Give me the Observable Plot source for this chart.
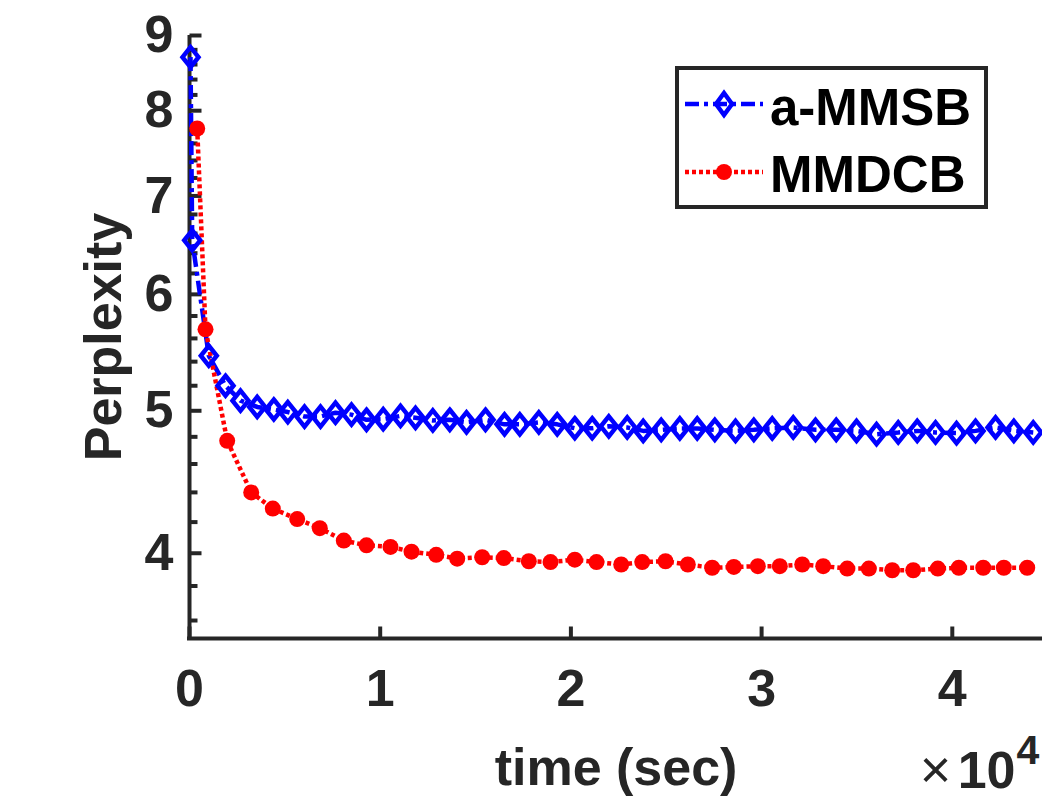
<!DOCTYPE html>
<html>
<head>
<meta charset="utf-8">
<script src="https://cdn.jsdelivr.net/npm/d3@7"></script>
<script src="https://cdn.jsdelivr.net/npm/@observablehq/plot@0.6"></script>
<style>
  body { margin: 0; background: #fff; }
  #wrap { position: relative; width: 1042px; height: 797px; overflow: hidden; background: #fff; }
  #legend { position: absolute; left: 0; top: 0; pointer-events: none; }
</style>
</head>
<body>
<div id="wrap"></div>
<script>
// ---- data (time in seconds, perplexity) ----
const ammsbTime = [52, 142, 1012, 1888, 2674, 3550, 4421, 5155, 6031, 6870, 7656, 8495, 9282, 10158, 11065, 11852, 12759, 13650, 14526, 15522, 16519, 17321, 18318, 19283, 20205, 21117, 21988, 22953, 23792, 24736, 25712, 26624, 27547, 28633, 29592, 30557, 31659, 32828, 33914, 34978, 36027, 37165, 38161, 39121, 40222, 41219, 42268, 43227, 44244];
const ammsbPerp = [8.70, 6.53, 5.45, 5.20, 5.08, 5.03, 5.01, 4.99, 4.955, 4.955, 4.985, 4.97, 4.93, 4.935, 4.96, 4.945, 4.925, 4.93, 4.91, 4.93, 4.895, 4.895, 4.91, 4.895, 4.865, 4.865, 4.88, 4.871, 4.845, 4.853, 4.864, 4.864, 4.853, 4.845, 4.853, 4.864, 4.871, 4.853, 4.853, 4.845, 4.82, 4.833, 4.845, 4.833, 4.828, 4.845, 4.871, 4.845, 4.833];

const mmdcbTime = [404, 839, 1977, 3236, 4368, 5648, 6833, 8091, 9282, 10540, 11642, 12937, 14038, 15349, 16482, 17793, 18931, 20205, 21343, 22638, 23740, 24962, 26131, 27410, 28543, 29802, 30955, 32130, 33231, 34490, 35623, 36850, 37951, 39241, 40343, 41622, 42702, 43929];
const mmdcbPerp = [7.78, 5.68, 4.77, 4.40, 4.29, 4.22, 4.16, 4.08, 4.05, 4.04, 4.01, 3.99, 3.966, 3.975, 3.97, 3.95, 3.945, 3.96, 3.945, 3.93, 3.945, 3.95, 3.93, 3.91, 3.915, 3.92, 3.92, 3.93, 3.92, 3.905, 3.905, 3.895, 3.895, 3.905, 3.91, 3.91, 3.91, 3.91];

const xTicks = [0, 10000, 20000, 30000, 40000];
const xTickLabels = ["0", "1", "2", "3", "4"];
const yMajor = [4, 5, 6, 7, 8, 9];
const yMinor = [3.6, 3.8, 4.2, 4.4, 4.6, 4.8, 5.2, 5.4, 5.6, 5.8, 6.2, 6.4, 6.6, 6.8, 7.2, 7.4, 7.6, 7.8, 8.2, 8.4, 8.6, 8.8];
const seriesNames = ["a-MMSB", "MMDCB"];
const xLabel = "time (sec)";
const yLabel = "Perplexity";

const ammsb = ammsbTime.map((t, i) => ({t, p: ammsbPerp[i]}));
const mmdcb = mmdcbTime.map((t, i) => ({t, p: mmdcbPerp[i]}));

const AX = "#262626";
const FONT = '"Liberation Sans", Arial, Helvetica, sans-serif';
const BLUE_DASH = "14,5,4,5";
const RED_DASH = "4,3";
const tickRight = len => ({draw(ctx) { ctx.moveTo(0, 0); ctx.lineTo(len, 0); }});
const tickUp = len => ({draw(ctx) { ctx.moveTo(0, 0); ctx.lineTo(0, -len); }});
// MATLAB-like diamond (slightly taller than wide)
const diamondSym = (hw, hh) => ({draw(ctx) { ctx.moveTo(0, -hh); ctx.lineTo(hw, 0); ctx.lineTo(0, hh); ctx.lineTo(-hw, 0); ctx.closePath(); }});
const diamondPath = (hw, hh) => `M0,${-hh}L${hw},0L0,${hh}L${-hw},0Z`;

const chart = Plot.plot({
  width: 1042,
  height: 797,
  marginLeft: 189,
  marginRight: 0,
  marginTop: 35,
  marginBottom: 159,
  style: {fontFamily: FONT, fontWeight: "bold", fontSize: "52px", color: AX, background: "#fff"},
  x: {domain: [0, 44730]},
  y: {type: "log", domain: [3.5, 9]},
  marks: [
    // axis labels
    Plot.axisX(xTicks, {tickSize: 0, tickPadding: 31, tickFormat: (d, i) => xTickLabels[i], fontSize: 52, fill: AX, label: null}),
    Plot.axisY(yMajor, {tickSize: 0, tickPadding: 16, tickFormat: d => String(d), fontSize: 52, fill: AX, label: null}),
    // axis lines
    Plot.ruleX([0], {stroke: AX, strokeWidth: 4, insetBottom: -2}),
    Plot.ruleY([3.5], {stroke: AX, strokeWidth: 4, insetLeft: -2}),
    // ticks (inward)
    Plot.dot(yMajor, {y: d => d, frameAnchor: "left", symbol: tickRight(12), r: 1, stroke: AX, strokeWidth: 4, strokeLinecap: "butt", fill: "none"}),
    Plot.dot(yMinor, {y: d => d, frameAnchor: "left", symbol: tickRight(8), r: 1, stroke: AX, strokeWidth: 4, strokeLinecap: "butt", fill: "none"}),
    Plot.dot(xTicks, {x: d => d, frameAnchor: "bottom", symbol: tickUp(12), r: 1, stroke: AX, strokeWidth: 4, strokeLinecap: "butt", fill: "none"}),
    // data
    Plot.line(ammsb, {x: "t", y: "p", stroke: "#0000ff", strokeWidth: 4.5, strokeLinecap: "butt", strokeLinejoin: "miter", strokeDasharray: BLUE_DASH}),
    Plot.line(mmdcb, {x: "t", y: "p", stroke: "#ff0000", strokeWidth: 4.5, strokeLinecap: "butt", strokeLinejoin: "miter", strokeDasharray: RED_DASH}),
    Plot.dot(ammsb, {x: "t", y: "p", symbol: diamondSym(8, 10), r: 8, stroke: "#0000ff", strokeWidth: 4.5, strokeLinejoin: "miter", fill: "none"}),
    Plot.dot(mmdcb, {x: "t", y: "p", r: 8, fill: "#ff0000", stroke: "none"}),
    // axis titles
    Plot.text([xLabel], {text: d => d, frameAnchor: "bottom", dy: 146, lineAnchor: "bottom", textAnchor: "middle", fontSize: 52, fill: AX}),
    Plot.text([yLabel], {text: d => d, frameAnchor: "left", rotate: -90, dx: -85, lineAnchor: "middle", textAnchor: "middle", fontSize: 52, fill: AX}),
    // exponent
    Plot.text(["\u00d7"], {text: d => d, frameAnchor: "bottom-right", dx: -107, dy: 149, lineAnchor: "bottom", textAnchor: "middle", fontSize: 54, fontWeight: "normal", fill: AX}),
    Plot.text(["10"], {text: d => d, frameAnchor: "bottom-right", dx: -27, dy: 149, lineAnchor: "bottom", textAnchor: "end", fontSize: 52, fill: AX}),
    Plot.text(["4"], {text: d => d, frameAnchor: "bottom-right", dx: -26, dy: 125, lineAnchor: "bottom", textAnchor: "start", fontSize: 41, fill: AX})
  ]
});

const wrap = document.getElementById("wrap");
wrap.appendChild(chart);

// ---- legend (overlay) ----
const lg = d3.select(wrap).append("svg").attr("id", "legend").attr("width", 1042).attr("height", 797);
const box = {x: 675, y: 66, w: 313, h: 143};
lg.append("rect").attr("x", box.x + 2).attr("y", box.y + 2).attr("width", box.w - 4).attr("height", box.h - 4)
  .attr("fill", "#fff").attr("stroke", AX).attr("stroke-width", 4);
const rows = [
  {name: seriesNames[0], color: "#0000ff", dash: BLUE_DASH, ly: 104, ty: 125, marker: "diamond"},
  {name: seriesNames[1], color: "#ff0000", dash: RED_DASH, ly: 172, ty: 192, marker: "circle"}
];
rows.forEach(r => {
  lg.append("line").attr("x1", 685).attr("x2", 763).attr("y1", r.ly).attr("y2", r.ly)
    .attr("stroke", r.color).attr("stroke-width", 4.5).attr("stroke-dasharray", r.dash);
  if (r.marker === "diamond") {
    lg.append("path").attr("d", diamondPath(8, 11))
      .attr("transform", `translate(724,${r.ly})`).attr("fill", "none").attr("stroke", r.color).attr("stroke-width", 4.5).attr("stroke-linejoin", "miter");
  } else {
    lg.append("circle").attr("cx", 724).attr("cy", r.ly).attr("r", 8).attr("fill", r.color);
  }
  lg.append("text").attr("x", 770).attr("y", r.ty).text(r.name)
    .attr("font-family", FONT).attr("font-weight", "bold").attr("font-size", 51).attr("fill", "#000");
});
</script>
</body>
</html>
